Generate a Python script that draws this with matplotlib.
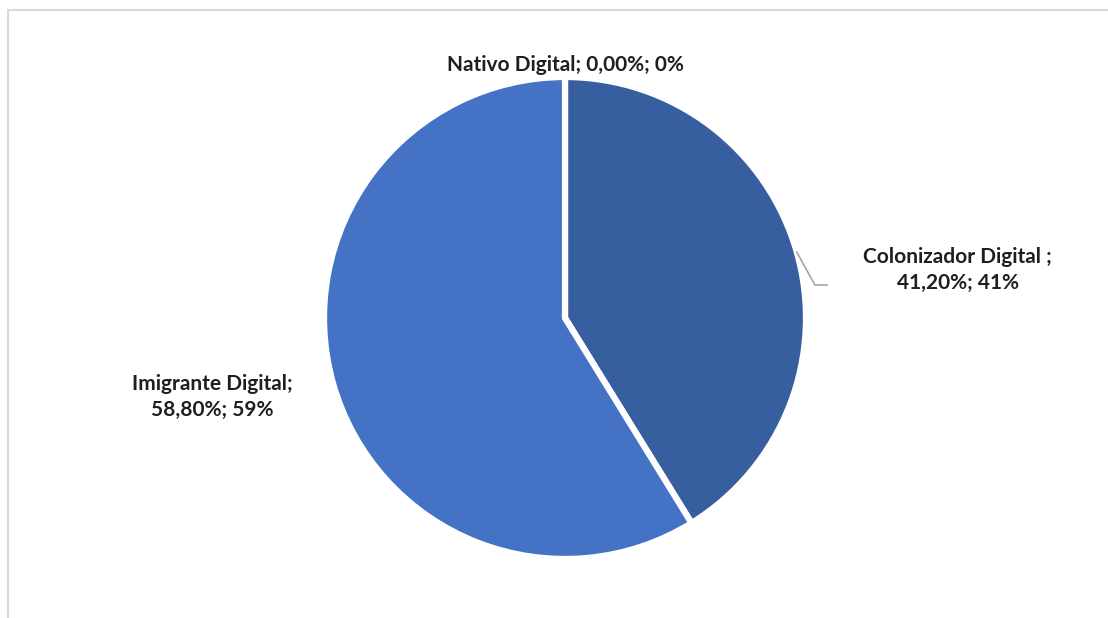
import numpy as np
import matplotlib.pyplot as plt

# perfil digital dos respondentes
categorias = ["Nativo Digital", "Colonizador Digital ", "Imigrante Digital"]
percentuais = [0.00, 41.20, 58.80]
cores = ["#4472C4", "#375E9F", "#4472C4"]

plt.rcParams['font.family'] = ['Lato', 'DejaVu Sans']


def fmt(v):
    return "%s%%; %d%%" % (("%.2f" % v).replace(".", ","), round(v))


fig = plt.figure(figsize=(11.08, 6.18), dpi=100)
W, H = 1108, 618

# moldura do grafico (so topo e esquerda aparecem)
fig.add_artist(plt.Line2D([8 / W, 1.0], [1 - 10 / H, 1 - 10 / H], color="#d9d9d9", lw=1.5))
fig.add_artist(plt.Line2D([8 / W, 8 / W], [0, 1 - 10 / H], color="#d9d9d9", lw=1.5))

cx, cy, r = 565, 318, 241
ax = fig.add_axes([(cx - r) / W, (H - cy - r) / H, 2 * r / W, 2 * r / H])
wedges, _ = ax.pie(percentuais, colors=cores, startangle=90, counterclock=False,
                   wedgeprops=dict(edgecolor="white", linewidth=4.5))
ax.set_xlim(-1, 1)
ax.set_ylim(-1, 1)
ax.set_aspect("equal")
ax.axis("off")

fs = 15
cor_txt = "#1f1f1f"
# Nativo
ax.text(0, 1.05, "%s; %s" % (categorias[0], fmt(percentuais[0])), ha="center",
        va="center", fontsize=fs, fontweight="bold", color=cor_txt)

# Colonizador com linha de chamada
ang = np.deg2rad(90 - (percentuais[0] + percentuais[1] / 2) * 3.6)
x0, y0 = np.cos(ang), np.sin(ang)
ax.plot([x0, x0 + 0.075, x0 + 0.125], [y0, 0.137, 0.137], color="#a6a6a6", lw=1.2,
        clip_on=False)
ax.text(1.63, 0.2, "%s;\n%s" % (categorias[1], fmt(percentuais[1])),
        ha="center", va="center", fontsize=fs, fontweight="bold", color=cor_txt,
        linespacing=1.4)

# Imigrante
ax.text(-1.465, -0.328, "%s;\n%s" % (categorias[2], fmt(percentuais[2])),
        ha="center", va="center", fontsize=fs, fontweight="bold", color=cor_txt,
        linespacing=1.4)

fig.savefig("out.png", dpi=100)
